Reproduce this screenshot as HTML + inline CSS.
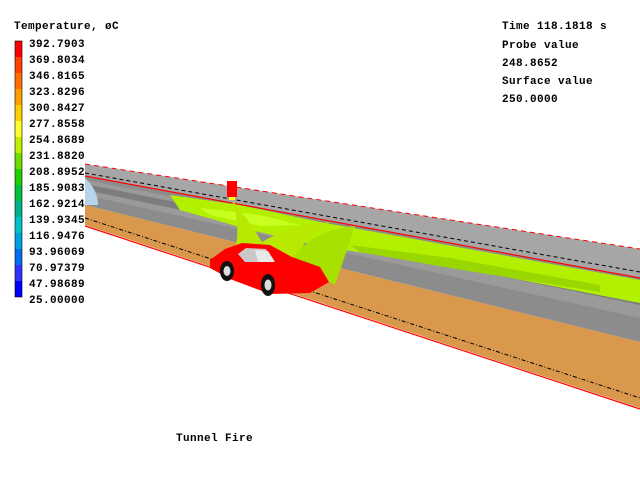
<!DOCTYPE html>
<html><head><meta charset="utf-8"><style>
html,body{margin:0;padding:0;background:#fff;}
svg{display:block}
text{font-family:"Liberation Mono",monospace;font-weight:bold;font-size:11px;fill:#000;letter-spacing:0.4px}
</style></head><body>
<svg width="640" height="488" viewBox="0 0 640 488" xmlns="http://www.w3.org/2000/svg">
<polygon points="85,205 640,342 640,408 85,225" fill="#d9984c"/>
<line x1="85" y1="226" x2="640" y2="409" stroke="#f00" stroke-width="1.2"/>
<line x1="85" y1="218" x2="640" y2="398" stroke="#000" stroke-width="1" stroke-dasharray="4,2,1,2"/>
<polygon points="85,176 640,278 640,342 85,205" fill="#8c8c8c"/>
<polygon points="85,180 640,286 640,318 85,195" fill="#9a9a9a"/>
<polygon points="85,184 640,294 640,305 85,190" fill="#7d7d7d"/>
<polygon points="170,195 240,205 320,222 640,280 640,303 460,268 320,246 250,230 180,210" fill="#b3f000"/>
<polygon points="350,245 450,258 600,285 600,292 450,268 360,252" fill="#9ad600"/>
<polygon points="200,208 260,215 300,225 260,226 210,215" fill="#c9ff20"/>
<polygon points="85,164 640,249 640,278 85,176" fill="#a6a6a6"/>
<line x1="85" y1="164" x2="640" y2="249" stroke="#f00" stroke-width="1" stroke-dasharray="5,4"/>
<line x1="85" y1="176" x2="640" y2="278" stroke="#f00" stroke-width="1.2"/>
<line x1="85" y1="173" x2="640" y2="272" stroke="#000" stroke-width="1" stroke-dasharray="4,3"/>
<path d="M85,178 Q98,190 98,205 L85,205 Z" fill="#b8d4ea"/>
<rect x="227" y="181" width="10" height="16" fill="#f00"/>
<rect x="229" y="197" width="6" height="3" fill="#ff0"/>
<path d="M232,200 Q240,225 236,245 L300,262 Q300,235 330,222 Q290,225 262,242 Q250,222 232,200 Z" fill="#b7ea00"/>
<path d="M290,262 Q310,230 355,226 L335,285 Z" fill="#a8e000"/>
<polygon points="210,260 225,249 242,243 270,245 292,257 320,267 329,282 310,293 270,294 230,279 210,268" fill="#f00"/>
<polygon points="238,254 246,248 266,249 272,262 245,262" fill="#c8c8c8"/>
<polygon points="255,250 268,251 275,262 258,262" fill="#e8e8e8"/>
<ellipse cx="227" cy="271" rx="7" ry="10" fill="#111"/>
<ellipse cx="227" cy="271" rx="3.5" ry="5" fill="#ddd"/>
<ellipse cx="268" cy="285" rx="7" ry="11" fill="#111"/>
<ellipse cx="268" cy="285" rx="3.5" ry="5.5" fill="#ddd"/>
<rect x="27" y="162" width="58" height="66" fill="#fff"/>
<g>
<rect x="15" y="41" width="7" height="16" fill="#ff0000"/>
<rect x="15" y="57" width="7" height="16" fill="#ff4000"/>
<rect x="15" y="73" width="7" height="16" fill="#ff7000"/>
<rect x="15" y="89" width="7" height="16" fill="#ffa000"/>
<rect x="15" y="105" width="7" height="16" fill="#ffd000"/>
<rect x="15" y="121" width="7" height="16" fill="#ffff30"/>
<rect x="15" y="137" width="7" height="16" fill="#c0f000"/>
<rect x="15" y="153" width="7" height="16" fill="#70dd00"/>
<rect x="15" y="169" width="7" height="16" fill="#20d000"/>
<rect x="15" y="185" width="7" height="16" fill="#00c040"/>
<rect x="15" y="201" width="7" height="16" fill="#00b090"/>
<rect x="15" y="217" width="7" height="16" fill="#00c0c8"/>
<rect x="15" y="233" width="7" height="16" fill="#00a0e0"/>
<rect x="15" y="249" width="7" height="16" fill="#0070f0"/>
<rect x="15" y="265" width="7" height="16" fill="#3030ff"/>
<rect x="15" y="281" width="7" height="16" fill="#0000ff"/>
<rect x="15" y="41" width="7" height="256" fill="none" stroke="#000" stroke-width="0.6"/>
</g>
<text x="14" y="29">Temperature, øC</text>
<g>
<text x="29" y="47">392.7903</text>
<text x="29" y="63">369.8034</text>
<text x="29" y="79">346.8165</text>
<text x="29" y="95">323.8296</text>
<text x="29" y="111">300.8427</text>
<text x="29" y="127">277.8558</text>
<text x="29" y="143">254.8689</text>
<text x="29" y="159">231.8820</text>
<text x="29" y="175">208.8952</text>
<text x="29" y="191">185.9083</text>
<text x="29" y="207">162.9214</text>
<text x="29" y="223">139.9345</text>
<text x="29" y="239">116.9476</text>
<text x="29" y="255">93.96069</text>
<text x="29" y="271">70.97379</text>
<text x="29" y="287">47.98689</text>
<text x="29" y="303">25.00000</text>
</g>
<text x="502" y="29">Time 118.1818 s</text>
<text x="502" y="48">Probe value</text>
<text x="502" y="66">248.8652</text>
<text x="502" y="84">Surface value</text>
<text x="502" y="102">250.0000</text>
<text x="176" y="441">Tunnel Fire</text>
</svg>
</body></html>
